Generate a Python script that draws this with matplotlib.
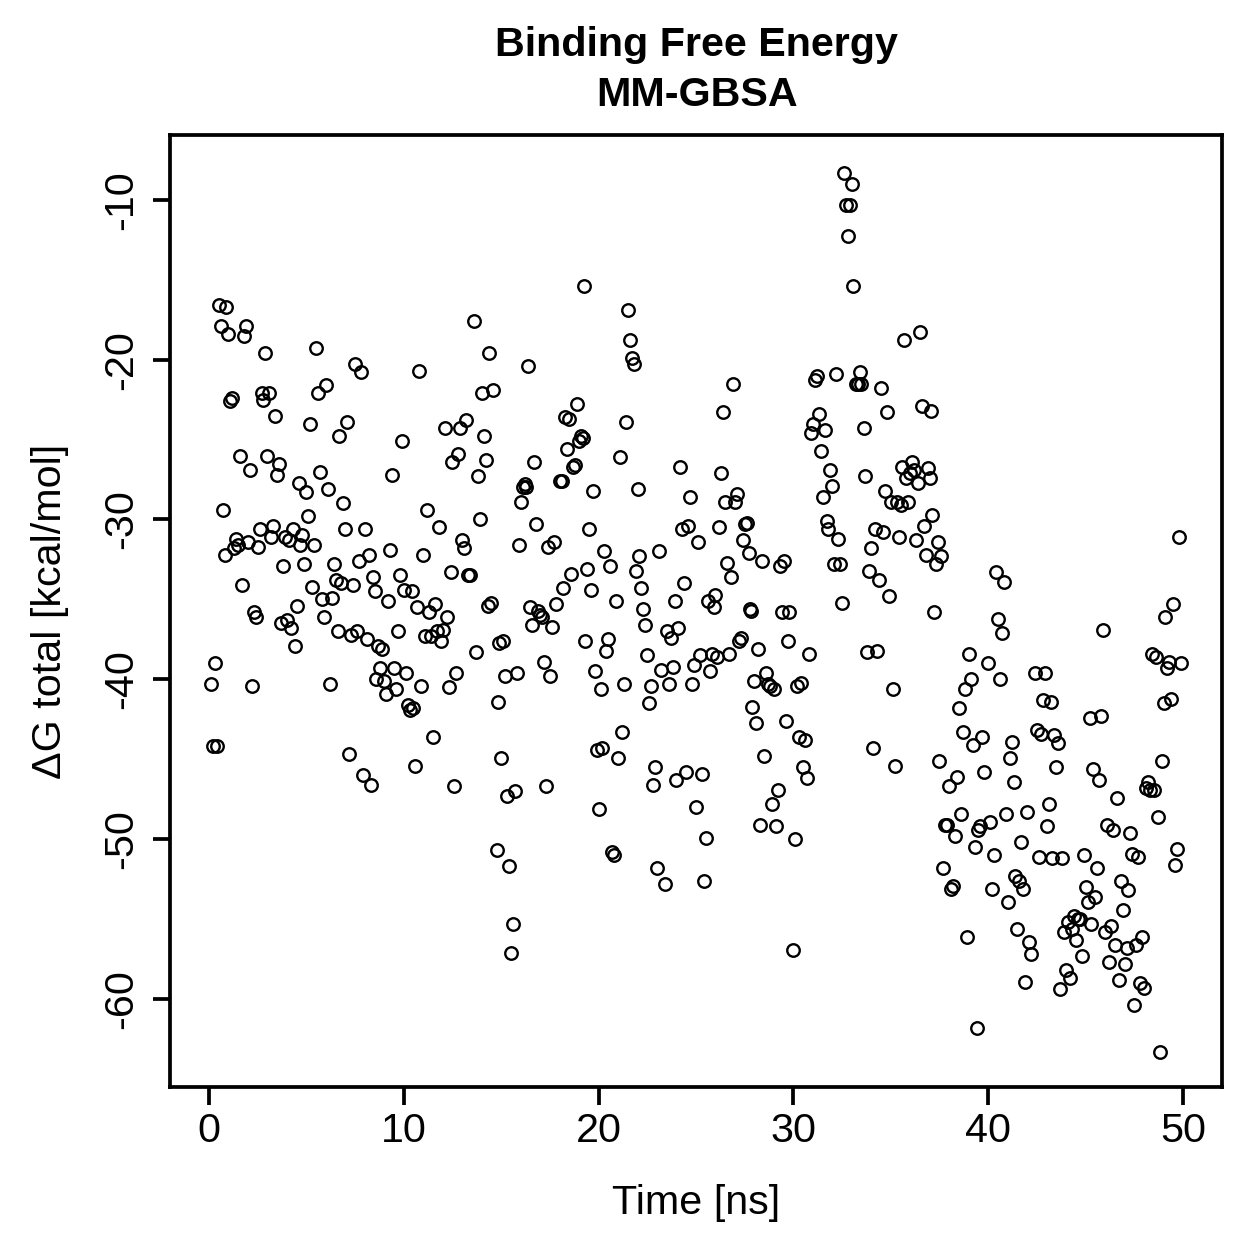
import matplotlib
matplotlib.use("Agg")
import matplotlib.pyplot as plt

plt.rcParams["font.family"] = ["Liberation Sans", "DejaVu Sans"]
plt.rcParams["axes.unicode_minus"] = False

# ---- data (time in ns, dG in kcal/mol) ----
time_ns = [
    0.1, 0.2, 0.4, 0.3, 0.5, 0.6, 0.7, 0.8, 0.9, 1.0, 1.1, 1.2, 1.3, 1.4, 1.5, 1.6, 1.7, 1.8, 1.9, 2.0,
    2.1, 2.2, 2.3, 2.4, 2.5, 2.6, 2.7, 2.8, 2.9, 3.0, 3.1, 3.2, 3.3, 3.4, 3.5, 3.6, 3.7, 3.8, 3.9, 4.0,
    4.1, 4.2, 4.3, 4.4, 4.5, 4.6, 4.7, 4.8, 4.9, 5.0, 5.1, 5.2, 5.3, 5.4, 5.5, 5.6, 5.7, 5.8, 5.9, 6.0,
    6.1, 6.2, 6.3, 6.4, 6.5, 6.6, 6.7, 6.8, 6.9, 7.0, 7.1, 7.2, 7.3, 7.4, 7.5, 7.6, 7.7, 7.8, 7.9, 8.0,
    8.1, 8.2, 8.3, 8.4, 8.5, 8.6, 8.7, 8.8, 8.9, 9.0, 9.1, 9.2, 9.3, 9.4, 9.5, 9.6, 9.7, 9.8, 9.9, 10.0,
    10.1, 10.2, 10.3, 10.4, 10.5, 10.6, 10.7, 10.8, 10.9, 11.0, 11.1, 11.2, 11.3, 11.4, 11.5, 11.6, 11.7, 11.8, 11.9, 12.0,
    12.1, 12.2, 12.3, 12.4, 12.5, 12.6, 12.7, 12.8, 12.9, 13.0, 13.1, 13.2, 13.3, 13.4, 13.6, 13.7, 13.8, 13.9, 14.0, 14.1,
    14.2, 14.3, 14.4, 14.5, 14.6, 14.8, 14.85, 14.9, 15.0, 15.1, 15.2, 15.3, 15.4, 15.5, 15.6, 15.7, 15.8, 15.9, 16.0, 16.1,
    16.2, 16.3, 16.4, 16.5, 16.6, 16.7, 16.8, 16.9, 17.0, 17.1, 17.2, 17.3, 17.4, 17.5, 17.6, 17.7, 17.8, 18.0, 18.1, 18.2,
    18.3, 18.4, 18.5, 18.6, 18.7, 18.8, 18.9, 19.0, 19.1, 19.2, 19.25, 19.3, 19.4, 19.5, 19.6, 19.7, 19.8, 19.9, 20.0, 20.1,
    20.2, 20.3, 20.4, 20.5, 20.6, 20.7, 20.8, 20.9, 21.0, 21.1, 21.2, 21.3, 21.4, 21.5, 21.6, 21.7, 21.8, 21.9, 22.0, 22.1,
    22.2, 22.3, 22.4, 22.5, 22.6, 22.7, 22.8, 22.9, 23.0, 23.1, 23.2, 23.4, 23.5, 23.6, 23.7, 23.8, 23.9, 24.0, 24.1, 24.2,
    24.3, 24.4, 24.5, 24.6, 24.7, 24.8, 24.9, 25.0, 25.1, 25.2, 25.3, 25.4, 25.5, 25.6, 25.7, 25.8, 25.9, 26.0, 26.1, 26.2,
    26.3, 26.4, 26.5, 26.6, 26.7, 26.8, 26.9, 27.0, 27.1, 27.2, 27.3, 27.4, 27.5, 27.6, 27.7, 27.75, 27.8, 27.9, 28.0, 28.1,
    28.2, 28.3, 28.4, 28.5, 28.6, 28.7, 28.8, 28.9, 29.0, 29.1, 29.2, 29.3, 29.4, 29.5, 29.6, 29.7, 29.8, 30.0, 30.1, 30.2,
    30.3, 30.4, 30.5, 30.6, 30.7, 30.8, 30.9, 31.0, 31.1, 31.2, 31.3, 31.4, 31.5, 31.6, 31.7, 31.8, 31.9, 32.0, 32.1, 32.2,
    32.3, 32.4, 32.5, 32.6, 32.7, 32.8, 32.9, 33.0, 33.05, 33.2, 33.3, 33.4, 33.45, 33.6, 33.7, 33.8, 33.9, 34.0, 34.1, 34.2,
    34.3, 34.4, 34.5, 34.6, 34.7, 34.8, 34.9, 35.0, 35.1, 35.2, 35.3, 35.4, 35.5, 35.6, 35.7, 35.8, 35.9, 36.0, 36.1, 36.2,
    36.3, 36.4, 36.5, 36.6, 36.7, 36.8, 36.9, 37.0, 37.05, 37.1, 37.2, 37.3, 37.4, 37.5, 37.6, 37.7, 37.8, 37.9, 38.0, 38.1,
    38.2, 38.3, 38.4, 38.5, 38.6, 38.7, 38.8, 38.9, 39.0, 39.1, 39.2, 39.3, 39.4, 39.5, 39.6, 39.7, 39.8, 40.0, 40.1, 40.2,
    40.3, 40.4, 40.5, 40.6, 40.7, 40.8, 40.9, 41.0, 41.1, 41.2, 41.3, 41.4, 41.5, 41.6, 41.7, 41.8, 41.9, 42.0, 42.1, 42.2,
    42.4, 42.5, 42.6, 42.7, 42.8, 42.9, 43.0, 43.1, 43.2, 43.3, 43.4, 43.5, 43.6, 43.7, 43.8, 43.9, 44.0, 44.1, 44.2, 44.3,
    44.4, 44.5, 44.6, 44.7, 44.8, 44.9, 45.0, 45.1, 45.2, 45.3, 45.4, 45.5, 45.6, 45.7, 45.8, 45.9, 46.0, 46.1, 46.2, 46.3,
    46.4, 46.5, 46.6, 46.7, 46.8, 46.9, 47.0, 47.1, 47.2, 47.3, 47.4, 47.5, 47.6, 47.7, 47.8, 47.9, 48.0, 48.1, 48.2, 48.3,
    48.4, 48.5, 48.6, 48.7, 48.8, 48.9, 49.0, 49.1, 49.2, 49.3, 49.4, 49.5, 49.6, 49.7, 49.8, 49.9,
]
dg_total = [
    -40.3, -44.2, -44.2, -39.0, -16.6, -17.9, -29.4, -32.2, -16.7, -18.4, -22.6, -22.4, -31.8, -31.2, -31.6, -26.0, -34.1, -18.5, -17.9, -31.4,
    -26.9, -40.4, -35.8, -36.1, -31.7, -30.6, -22.1, -22.5, -19.6, -26.0, -22.1, -31.1, -30.4, -23.5, -27.2, -26.5, -36.5, -32.9, -31.1, -36.3,
    -31.3, -36.8, -30.6, -37.9, -35.4, -27.7, -31.6, -31.0, -32.8, -28.3, -29.8, -24.0, -34.2, -31.6, -19.3, -22.1, -27.0, -35.0, -36.1, -21.6,
    -28.1, -40.3, -34.9, -32.8, -33.8, -37.0, -24.8, -34.0, -29.0, -30.6, -23.9, -44.7, -37.2, -34.1, -20.3, -37.0, -32.6, -20.8, -46.0, -30.6,
    -37.5, -32.2, -46.6, -33.6, -34.5, -40.0, -37.9, -39.3, -38.1, -40.1, -40.9, -35.1, -31.9, -27.2, -39.3, -40.6, -37.0, -33.5, -25.1, -34.4,
    -39.6, -41.6, -41.9, -34.5, -41.8, -45.4, -35.5, -20.7, -40.4, -32.2, -37.3, -29.4, -35.8, -37.3, -43.6, -35.3, -37.0, -30.5, -37.6, -36.9,
    -24.3, -36.1, -40.5, -33.3, -26.4, -46.7, -39.6, -25.9, -24.3, -31.3, -31.8, -23.8, -33.5, -33.5, -17.6, -38.3, -27.3, -30.0, -22.1, -24.8,
    -26.3, -35.4, -19.6, -35.2, -21.9, -50.7, -41.4, -37.7, -44.9, -37.6, -39.8, -47.3, -51.7, -57.1, -55.3, -47.0, -39.6, -31.6, -28.9, -28.0,
    -27.8, -28.0, -20.4, -35.5, -36.6, -26.4, -30.3, -35.7, -36.0, -36.1, -38.9, -46.7, -31.7, -39.8, -36.7, -31.4, -35.3, -27.6, -27.6, -34.3,
    -23.6, -25.6, -23.7, -33.4, -26.7, -26.6, -22.8, -25.1, -24.8, -24.9, -15.4, -37.6, -33.1, -30.6, -34.4, -28.2, -39.5, -44.4, -48.1, -40.6,
    -44.3, -32.0, -38.2, -37.5, -32.9, -50.8, -51.0, -35.1, -44.9, -26.1, -43.3, -40.3, -23.9, -16.9, -18.8, -19.9, -20.3, -33.2, -28.1, -32.3,
    -34.3, -35.6, -36.6, -38.5, -41.5, -40.4, -46.6, -45.5, -51.8, -32.0, -39.4, -52.8, -37.0, -40.3, -37.4, -39.2, -35.1, -46.3, -36.8, -26.7,
    -30.6, -34.0, -45.8, -30.4, -28.6, -40.3, -39.1, -48.0, -31.4, -38.5, -45.9, -52.6, -49.9, -35.1, -39.5, -38.4, -35.5, -34.7, -38.6, -30.5,
    -27.1, -23.3, -28.9, -32.7, -38.4, -33.6, -21.5, -28.9, -28.4, -37.6, -37.4, -31.3, -30.3, -30.2, -32.1, -35.6, -35.7, -41.7, -40.1, -42.7,
    -38.1, -49.1, -32.6, -44.8, -39.6, -40.3, -40.4, -47.8, -40.6, -49.2, -46.9, -32.9, -35.8, -32.6, -42.6, -37.6, -35.8, -56.9, -50.0, -40.4,
    -43.6, -40.2, -45.5, -43.8, -46.2, -38.4, -24.6, -24.0, -21.3, -21.0, -23.4, -25.7, -28.6, -24.4, -30.1, -30.6, -26.9, -27.9, -32.8, -20.9,
    -31.2, -32.8, -35.2, -8.3, -10.3, -12.3, -10.3, -9.0, -15.4, -21.5, -21.5, -20.8, -21.5, -24.3, -27.3, -38.3, -33.2, -31.8, -44.3, -30.6,
    -38.2, -33.8, -21.8, -30.8, -28.2, -23.3, -34.8, -28.9, -40.6, -45.4, -28.9, -31.1, -29.1, -26.7, -18.8, -27.4, -28.9, -27.1, -26.4, -26.9,
    -31.3, -27.7, -18.3, -22.9, -30.4, -32.2, -26.8, -27.4, -23.2, -29.7, -35.8, -32.8, -31.4, -45.1, -32.3, -51.8, -49.1, -49.1, -46.7, -53.1,
    -52.9, -49.8, -46.1, -41.8, -48.4, -43.3, -40.6, -56.1, -38.4, -40.0, -44.1, -50.5, -61.8, -49.4, -49.2, -43.6, -45.8, -39.0, -48.9, -53.1,
    -51.0, -33.3, -36.2, -40.0, -37.1, -33.9, -48.4, -53.9, -44.9, -43.9, -46.4, -52.3, -55.6, -52.6, -50.2, -53.1, -58.9, -48.3, -56.4, -57.2,
    -39.6, -43.2, -51.1, -43.4, -41.3, -39.6, -49.2, -47.8, -41.4, -51.2, -43.5, -45.5, -44.0, -59.4, -51.2, -55.8, -58.2, -55.2, -58.7, -55.6,
    -54.8, -56.3, -55.0, -55.0, -57.3, -51.0, -53.0, -53.9, -42.4, -55.3, -45.6, -53.6, -51.8, -46.3, -42.3, -36.9, -55.8, -49.1, -57.7, -55.4,
    -49.4, -56.6, -47.4, -58.8, -52.6, -54.4, -57.8, -56.8, -53.2, -49.6, -50.9, -60.4, -56.6, -51.1, -59.0, -56.1, -59.3, -46.8, -46.4, -46.9,
    -38.4, -46.9, -38.6, -48.6, -63.3, -45.1, -41.5, -36.1, -39.3, -38.9, -41.2, -35.3, -51.6, -50.6, -31.1, -39.0,
]

x_ticks = [0, 10, 20, 30, 40, 50]
y_ticks = [-10, -20, -30, -40, -50, -60]

FS = 16.5

fig = plt.figure(figsize=(1259 / 180, 1259 / 180), dpi=180)
ax = fig.add_axes([0.135, 0.1366, 0.8356, 0.7562])

ax.plot(time_ns, dg_total, ls="none", marker="o", ms=5.0, mfc="none",
        mec="black", mew=0.95)

ax.set_xlim(-2, 52)
ax.set_ylim(-65.5, -5.95)
ax.set_xticks(x_ticks)
ax.set_yticks(y_ticks)
ax.set_yticklabels([str(v) for v in y_ticks], rotation=90, va="center")
ax.tick_params(direction="out", length=7, width=1.5, labelsize=FS)
ax.tick_params(axis="x", pad=3)
ax.tick_params(axis="y", pad=5)
for s in ax.spines.values():
    s.set_linewidth(1.5)

ax.set_xlabel("Time [ns]", fontsize=FS, va="center")
ax.set_ylabel("ΔG total [kcal/mol]", fontsize=FS, va="center")
ax.xaxis.set_label_coords(0.5, -0.1218)
ax.yaxis.set_label_coords(-0.114, 0.5)

fig.text(0.5535, 0.964, "Binding Free Energy", ha="center", va="center",
         fontsize=FS, fontweight="bold")
fig.text(0.5535, 0.9245, "MM-GBSA", ha="center", va="center",
         fontsize=FS, fontweight="bold")

fig.savefig("out.png", dpi=180)
